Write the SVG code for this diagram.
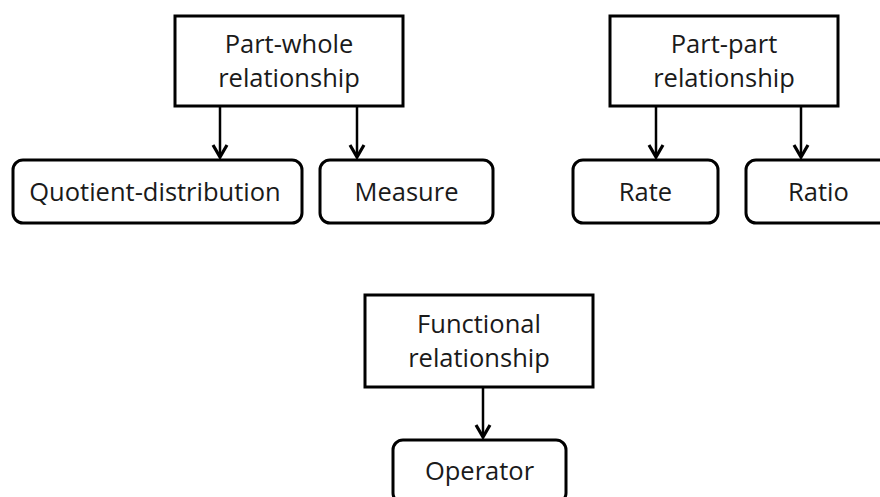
<svg xmlns="http://www.w3.org/2000/svg" width="880" height="497" viewBox="0 0 880 497">
<style>
.box{fill:#fff;stroke:#000;stroke-width:3}
.t{font-family:"Open Sans","Noto Sans",sans-serif;font-size:25.5px;fill:#1a1a1a;text-anchor:middle}
.c{stroke:#000;stroke-width:2.5;fill:none}
.h{stroke:#000;stroke-width:3.2;fill:none;stroke-linejoin:miter}
</style>
<rect width="880" height="497" fill="#fff"/>
<g id="part-whole"><rect class="box" x="175" y="16" width="228" height="90"/><text class="t" x="289" y="53">Part-whole</text><text class="t" x="289" y="87">relationship</text></g>
<g id="part-part"><rect class="box" x="610" y="16" width="228" height="90"/><text class="t" x="724" y="53">Part-part</text><text class="t" x="724" y="87">relationship</text></g>
<g id="functional"><rect class="box" x="365" y="295" width="228" height="92"/><text class="t" x="479" y="333">Functional</text><text class="t" x="479" y="367">relationship</text></g>
<g id="quotient"><rect class="box" x="13" y="160" width="289" height="63" rx="10"/><text class="t" x="155" y="201">Quotient-distribution</text></g>
<g id="measure"><rect class="box" x="320" y="160" width="173" height="63" rx="10"/><text class="t" x="406.5" y="201">Measure</text></g>
<g id="rate"><rect class="box" x="573" y="160" width="145" height="63" rx="10"/><text class="t" x="645.5" y="201">Rate</text></g>
<g id="ratio"><rect class="box" x="746" y="160" width="145" height="63" rx="10"/><text class="t" x="818.5" y="201">Ratio</text></g>
<g id="operator"><rect class="box" x="393" y="440" width="173" height="63" rx="10"/><text class="t" x="479.5" y="480">Operator</text></g>
<g id="connectors">
<line class="c" x1="220" y1="106" x2="220" y2="157"/><polyline class="h" points="213,145 220,157 227,145"/>
<line class="c" x1="357" y1="106" x2="357" y2="157"/><polyline class="h" points="350,145 357,157 364,145"/>
<line class="c" x1="656" y1="106" x2="656" y2="157"/><polyline class="h" points="649,145 656,157 663,145"/>
<line class="c" x1="801" y1="106" x2="801" y2="157"/><polyline class="h" points="794,145 801,157 808,145"/>
<line class="c" x1="483" y1="387" x2="483" y2="437"/><polyline class="h" points="476,425 483,437 490,425"/>
</g>
</svg>
